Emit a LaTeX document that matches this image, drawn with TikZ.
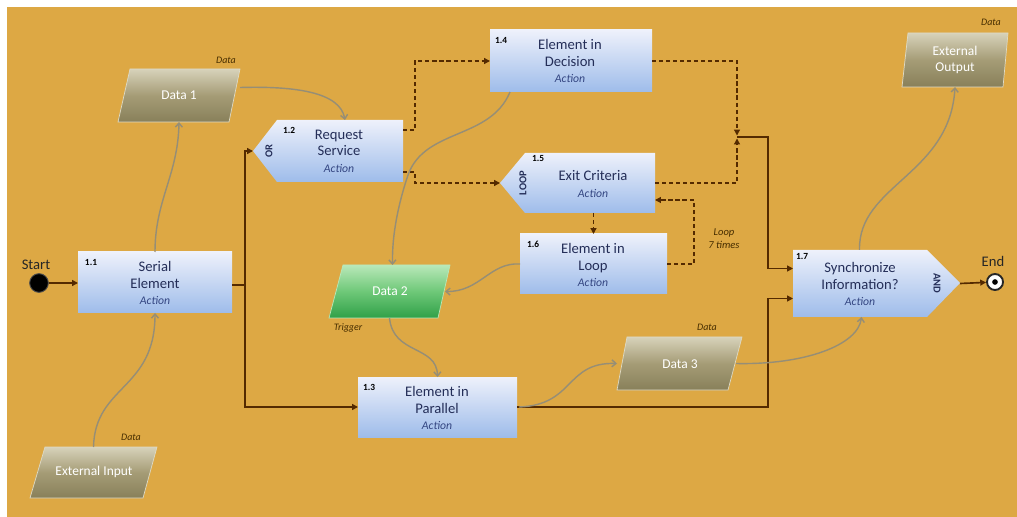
\documentclass[tikz,border=0pt]{standalone}
\usepackage{fontspec}
\setmainfont{Carlito}
\usetikzlibrary{arrows.meta,calc,fit}
\definecolor{bgc}{RGB}{221,168,68}
\definecolor{darkc}{RGB}{84,42,0}
\definecolor{grayc}{RGB}{150,142,118}
\definecolor{acttop}{RGB}{238,241,251}
\definecolor{actbot}{RGB}{158,188,234}
\definecolor{navyc}{RGB}{36,46,88}
\definecolor{actc}{RGB}{52,70,130}
\definecolor{datatop}{RGB}{215,210,186}
\definecolor{datamid}{RGB}{165,156,118}
\definecolor{databot}{RGB}{136,128,90}
\definecolor{datarim}{RGB}{222,218,196}
\definecolor{greentop}{RGB}{185,232,185}
\definecolor{greenmid}{RGB}{110,200,120}
\definecolor{greenbot}{RGB}{48,160,72}
\definecolor{lblc}{RGB}{70,45,0}
\newcommand{\actlbl}{{\fontsize{10}{12}\selectfont\itshape\color{actc}Action}}
\tikzset{
  actshade/.style={top color=acttop, bottom color=actbot},
  datashade/.style={top color=datatop, bottom color=databot, middle color=datamid, draw=datarim, line width=0.6pt},
  greenshade/.style={top color=greentop, bottom color=greenbot, middle color=greenmid, draw=greentop, line width=0.6pt},
  anch/.style={inner sep=0pt, outer sep=0pt},
  acttext/.style={align=center, text=navyc, font=\fontsize{12.5}{14}\selectfont, inner sep=0pt},
  numlbl/.style={font=\fontsize{8}{9}\selectfont\bfseries, text=black, inner sep=0pt},
  gatelbl/.style={font=\fontsize{9}{10}\selectfont\bfseries, text=navyc, inner sep=0pt},
  datatext/.style={align=center, text=white, font=\fontsize{11.5}{13}\selectfont, inner sep=0pt},
  datalbl/.style={font=\fontsize{8.5}{9}\selectfont\itshape, text=lblc, inner sep=0pt},
  evlbl/.style={font=\fontsize{12.5}{14}\selectfont, text=black!85, inner sep=0pt},
  solidc/.style={draw=darkc, line width=1.4pt, -{Triangle[length=5pt,width=5pt]}},
  dashc/.style={draw=darkc, line width=1.1pt, dash pattern=on 3.5pt off 2.5pt, -{Triangle[length=5pt,width=5pt]}},
  grayconn/.style={draw=grayc, line width=1.2pt, -{Straight Barb[length=3.5pt,width=6pt]}}
}
\begin{document}
\begin{tikzpicture}[x=0.03cm,y=-0.03cm]
\useasboundingbox (0,0) rectangle (1017,517);
\fill[white] (0,0) rectangle (1017,517);
\fill[bgc] (7,7) rectangle (1017,517);

% ---------- action shapes ----------
\shade[actshade] (78,252) rectangle (232,313);
\node[anch, fit={(78,252) (232,313)}] (n11) {};
\node[acttext] (t11) at (155,283) {Serial\\Element\\\actlbl};
\node[numlbl] (k11) at (91,262) {1.1};

\shade[actshade] (253,151) -- (277,120) -- (403,120) -- (403,182) -- (277,182) -- cycle;
\node[anch, fit={(253,120) (403,182)}] (n12) {};
\node[acttext] (t12) at (339,151) {Request\\Service\\\actlbl};
\node[numlbl] (k12) at (289,130) {1.2};
\node[gatelbl, rotate=90] (g12) at (269,151) {OR};

\shade[actshade] (490,30) rectangle (652,92);
\node[anch, fit={(490,30) (652,92)}] (n14) {};
\node[acttext] (t14) at (570,61) {Element in\\Decision\\\actlbl};
\node[numlbl] (k14) at (501,40) {1.4};

\shade[actshade] (500,183) -- (525,153) -- (655,153) -- (655,213) -- (525,213) -- cycle;
\node[anch, fit={(500,153) (655,213)}] (n15) {};
\node[acttext] (t15) at (593,184) {Exit Criteria\\\actlbl};
\node[numlbl] (k15) at (538,158) {1.5};
\node[gatelbl, rotate=90] (g15) at (523,183) {LOOP};

\shade[actshade] (520,234) rectangle (667,294);
\node[anch, fit={(520,234) (667,294)}] (n16) {};
\node[acttext] (t16) at (593,265) {Element in\\Loop\\\actlbl};
\node[numlbl] (k16) at (533,244) {1.6};

\shade[actshade] (358,377) rectangle (517,437);
\node[anch, fit={(358,377) (517,437)}] (n13) {};
\node[acttext] (t13) at (437,408) {Element in\\Parallel\\\actlbl};
\node[numlbl] (k13) at (369,387) {1.3};

\shade[actshade] (793,250) -- (927,250) -- (960,283) -- (927,317) -- (793,317) -- cycle;
\node[anch, fit={(793,250) (960,317)}] (n17) {};
\node[acttext] (t17) at (860,284) {Synchronize\\Information?\\\actlbl};
\node[numlbl] (k17) at (802,256) {1.7};
\node[gatelbl, rotate=-90] (g17) at (937,283) {AND};

% ---------- data shapes ----------
\shade[datashade] (130,69) -- (240,69) -- (229,122) -- (118,122) -- cycle;
\node[anch, fit={(118,69) (240,122)}] (d1) {};
\node[datatext] (td1) at (179,95) {Data 1};
\node[datalbl] (ld1) at (226,60) {Data};

\shade[datashade] (45,447) -- (157,447) -- (143,498) -- (30,498) -- cycle;
\node[anch, fit={(30,447) (157,498)}] (din) {};
\node[datatext] (tdin) at (94,472) {External Input};
\node[datalbl] (ldin) at (131,437) {Data};

\shade[greenshade] (343,265) -- (450,265) -- (438,318) -- (329,318) -- cycle;
\node[anch, fit={(329,265) (450,318)}] (d2) {};
\node[datatext] (td2) at (390,291) {Data 2};
\node[datalbl] (ld2) at (348,328) {Trigger};

\shade[datashade] (627,337) -- (742,337) -- (728,390) -- (617,390) -- cycle;
\node[anch, fit={(617,337) (742,390)}] (d3) {};
\node[datatext] (td3) at (680,364) {Data 3};
\node[datalbl] (ld3) at (707,327) {Data};

\shade[datashade] (908,33) -- (1008,33) -- (1003,87) -- (902,87) -- cycle;
\node[anch, fit={(902,33) (1008,87)}] (dout) {};
\node[datatext] (tdout) at (955,60) {External\\Output};
\node[datalbl] (ldout) at (991,22) {Data};

% ---------- events ----------
\node[circle, fill=black, draw=black!70, line width=0.8pt, minimum size=0.56cm, inner sep=0pt] (start) at (39,283) {};
\node[evlbl] (lstart) at (36,265) {Start};
\node[circle, fill=white, draw=black!85, line width=1.6pt, minimum size=0.48cm, inner sep=0pt] (endn) at (995,282) {};
\fill[black] (endn.center) circle (0.085cm);
\node[evlbl] (lend) at (993,261) {End};

% ---------- coordinates ----------
\coordinate (split) at (245,285);
\coordinate (J) at (737,137);

% ---------- solid flow ----------
\draw[solidc] (start) -- (n11.west |- start);
\draw[draw=darkc, line width=1.4pt] (n11.east |- split) -- (split);
\draw[solidc] (split) |- (n12.west);
\draw[solidc] (split) |- (n13.west);
\draw[solidc] (n13.east) -| ($(n17.west)+(-25,15)$) -- ($(n17.west)+(0,15)$);
\draw[solidc] (J) -| ($(n17.west)+(-25,-15)$) -- ($(n17.west)+(0,-15)$);
\draw[solidc] (n17.east) -- (endn);

% ---------- dashed flow ----------
\draw[dashc] ($(n12.east)+(0,-21)$) -- ++(12,0) |- (n14.west);
\draw[dashc] ($(n12.east)+(0,21)$) -- ++(12,0) |- (n15.west);
\draw[dashc] (n14.east) -| ($(J)+(0,-1.5)$);
\draw[dashc] (n15.east) -| ($(J)+(0,1.5)$);
\draw[dashc] (n16.north |- n15.south) -- (n16.north);
\draw[dashc] (n16.east) -- ++(27,0) |- ($(n15.east)+(0,17)$);
\node[datalbl, align=center, font=\fontsize{9}{11}\selectfont\itshape] (lloop) at (724,239) {Loop\\7 times};

% ---------- data flow ----------
\draw[grayconn] (n11.north) .. controls (155,200) and (178,175) .. (d1.south);
\draw[grayconn] (din.north) .. controls (95,385) and (155,390) .. (n11.south);
\draw[grayconn] ($(d1.east)+(0,-8)$) .. controls (295,86) and (340,92) .. ($(n12.north)+(17,0)$);
\draw[grayconn] ($(n14.south west)+(20,0)$) .. controls (490,140) and (425,128) .. (408,175) .. controls (398,205) and (392,235) .. ($(d2.north)+(3,0)$);
\draw[grayconn] (n16.west) .. controls (490,262) and (480,292) .. ($(d2.east)+(-5,0)$);
\draw[grayconn] (d2.south) .. controls (393,355) and (437,345) .. (n13.north);
\draw[grayconn] ($(n13.east)+(2,0)$) .. controls (575,405) and (565,362) .. (d3.west);
\draw[grayconn] ($(d3.east)+(-6,0)$) .. controls (805,365) and (858,345) .. ($(n17.south)+(-15,0)$);
\draw[grayconn] ($(n17.north)+(-17,0)$) .. controls (858,185) and (950,175) .. (dout.south);
\end{tikzpicture}
\end{document}
